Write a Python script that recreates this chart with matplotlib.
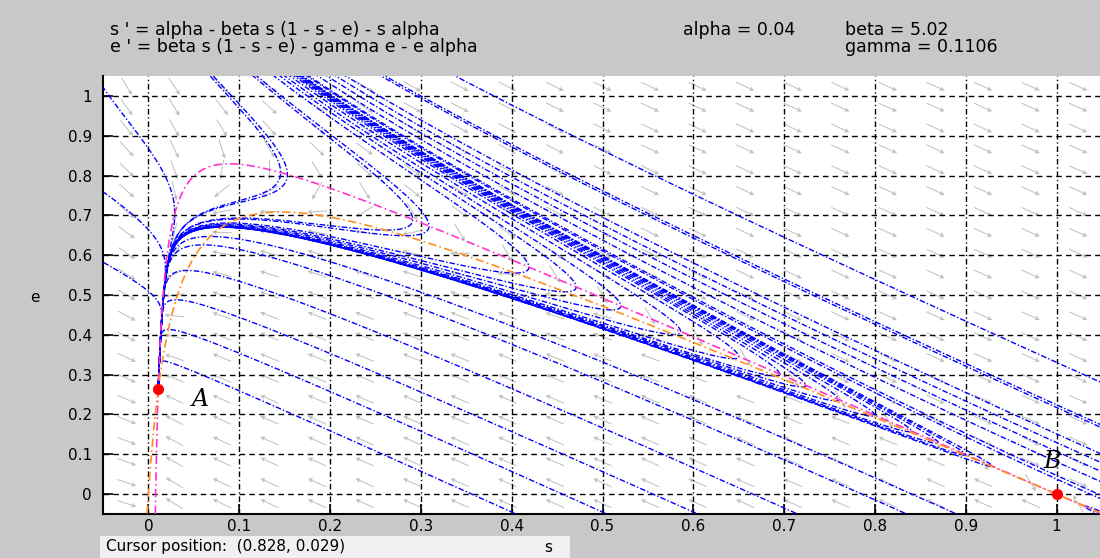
import numpy as np
import matplotlib
matplotlib.use('Agg')
import matplotlib.pyplot as plt
from matplotlib.patches import Rectangle

# parameters shown in the header
alpha = 0.04
beta = 5.02
gamma = 0.1106

# equilibrium points (s, e)
eq_s = [0.011, 1.0]
eq_e = [0.263, 0.0]

# seed points of the blue orbits
top_s = [0.07, 0.118, 0.18, 0.19, 0.20, 0.21, 0.26, 0.342]
tip_s = [0.153, 0.309, 0.419, 0.471, 0.52, 0.586, 0.65, 0.695, 0.724, 0.76, 0.80, 0.84, 0.87, 0.90, 0.93]
tip_e = [0.80, 0.673, 0.57, 0.52, 0.47, 0.407, 0.345, 0.30, 0.272, 0.237, 0.198, 0.158, 0.128, 0.099, 0.069]
bottom_s = [0.40, 0.50, 0.60, 0.71, 0.83, 0.885]
right_e = [0.178, 0.105, -0.008, -0.04]
left_e = [1.015, 0.756, 0.58]

xmin, xmax, ymin, ymax = -0.05, 1.05, -0.05, 1.05


def field(p):
    s, e = p
    inf = beta * s * (1 - s - e)
    return np.array([alpha - inf - s * alpha, inf - gamma * e - e * alpha])


def orbit(p0, sign, h=0.003, nmax=8000):
    p = np.array(p0, dtype=float)
    pts = [p.copy()]
    for i in range(nmax):
        f = field(p)
        n = np.hypot(*f)
        if n < 2e-5:
            break
        dt = sign * min(h / n, 0.2)
        k1 = f
        k2 = field(p + dt / 2 * k1)
        k3 = field(p + dt / 2 * k2)
        k4 = field(p + dt * k3)
        p = p + dt / 6 * (k1 + 2 * k2 + 2 * k3 + k4)
        pts.append(p.copy())
        if not (xmin - 0.02 < p[0] < xmax + 0.02 and ymin - 0.02 < p[1] < ymax + 0.02):
            break
    return np.array(pts)


def both(p0):
    b = orbit(p0, -1)[::-1]
    f = orbit(p0, 1)
    return np.vstack([b, f])


fig = plt.figure(figsize=(11, 5.58), dpi=100)
fig.patch.set_facecolor('#c8c8c8')
ax = fig.add_axes([103 / 1100, 1 - 514 / 558, 999 / 1100, 438 / 558])
ax.set_facecolor('white')

# direction field
nx, ny = 21, 21
gx = xmin + (np.arange(nx) + 0.5) * (xmax - xmin) / nx
gy = ymin + (np.arange(ny) + 0.5) * (ymax - ymin) / ny
X, Y = np.meshgrid(gx, gy)
F = field((X, Y))
pxs, pxe = 907.0, 398.0
du, dv = F[0] * pxs, F[1] * pxe
nn = np.hypot(du, dv)
L = 20.0
ax.quiver(X, Y, L * du / nn / pxs, L * dv / nn / pxe, angles='xy', scale_units='xy',
          scale=1, pivot='middle', color='#c0c0c0', width=0.001, headwidth=5,
          headlength=5, headaxislength=4, zorder=1)

# nullclines
cs = np.linspace(xmin, xmax, 1400)
ce = np.linspace(ymin, ymax, 700)
CX, CY = np.meshgrid(cs, ce)
CF = field((CX, CY))
ax.contour(CX, CY, CF[0], levels=[0], colors=['#ff33cc'], linewidths=1.2,
           linestyles=[(0, (5, 2, 1, 2))], zorder=4)
ax.contour(CX, CY, CF[1], levels=[0], colors=['#ff9020'], linewidths=1.2,
           linestyles=[(0, (5, 2, 1, 2))], zorder=4)

dash = (0, (4, 1.5, 1, 1.5))
seeds = [(s, 1.045) for s in top_s] + list(zip(tip_s, tip_e)) + \
        [(s, -0.045) for s in bottom_s] + [(1.045, e) for e in right_e] + \
        [(-0.048, e) for e in left_e]
for p0 in seeds:
    tr = both(p0)
    ax.plot(tr[:, 0], tr[:, 1], color='blue', lw=1.0, ls=dash, zorder=3)

ax.plot(eq_s, eq_e, 'o', color='red', ms=7, zorder=6)
ax.text(0.048, 0.22, 'A', fontsize=17, style='italic', family='DejaVu Serif', zorder=7)
ax.text(0.985, 0.065, 'B', fontsize=17, style='italic', family='DejaVu Serif', zorder=7)

ax.set_xlim(xmin, xmax)
ax.set_ylim(ymin, ymax)
ticks = np.round(np.arange(0, 1.01, 0.1), 1)
labels = ['0' if t == 0 else ('1' if t == 1 else f'{t:.1f}') for t in ticks]
ax.set_xticks(ticks)
ax.set_yticks(ticks)
ax.set_xticklabels(labels)
ax.set_yticklabels(labels)
ax.tick_params(direction='in', length=7, width=1.2, labelsize=11, colors='black')
ax.tick_params(axis='y', pad=8)
ax.xaxis.grid(True, color='black', ls=(0, (4, 2, 1, 2)), lw=1.0)
ax.yaxis.grid(True, color='black', ls=(0, (4, 3)), lw=1.0)
ax.set_axisbelow(False)
for sp in ['top', 'right']:
    ax.spines[sp].set_visible(False)
for sp in ['left', 'bottom']:
    ax.spines[sp].set_linewidth(1.5)

fig.text(548 / 1100, 1 - 548 / 558, 's', fontsize=11, ha='center', va='center')
fig.text(35 / 1100, 1 - 297 / 558, 'e', fontsize=11, ha='center', va='center')

fs = 12.5
fig.text(110 / 1100, 1 - 30 / 558, "s ' = alpha - beta s (1 - s - e) - s alpha", fontsize=fs, va='center')
fig.text(110 / 1100, 1 - 47 / 558, "e ' = beta s (1 - s - e) - gamma e - e alpha", fontsize=fs, va='center')
fig.text(683 / 1100, 1 - 30 / 558, "alpha = 0.04", fontsize=fs, va='center')
fig.text(845 / 1100, 1 - 30 / 558, "beta = 5.02", fontsize=fs, va='center')
fig.text(845 / 1100, 1 - 47 / 558, "gamma = 0.1106", fontsize=fs, va='center')

fig.patches.append(Rectangle((100 / 1100, 0), 470 / 1100, 22 / 558, transform=fig.transFigure,
                             facecolor='#f0f0f0', edgecolor='none', zorder=0))
fig.text(106 / 1100, 1 - 546 / 558, "Cursor position:  (0.828, 0.029)", fontsize=11, va='center')

fig.savefig('out.png', dpi=100, facecolor=fig.get_facecolor())
